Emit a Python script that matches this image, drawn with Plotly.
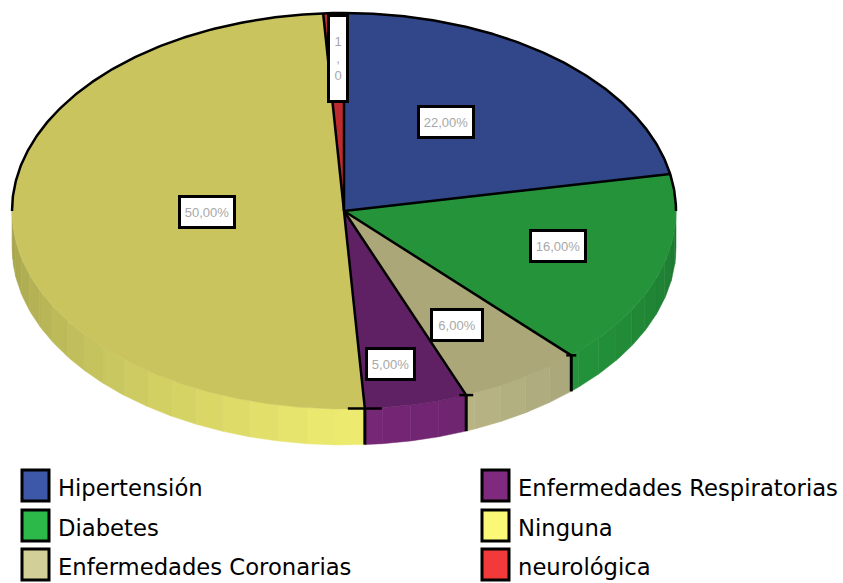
import math
import plotly.graph_objects as go

# ---- data ----
categories = ["Hipertensión", "Diabetes", "Enfermedades Coronarias",
              "Enfermedades Respiratorias", "Ninguna", "neurológica"]
values = [22, 16, 6, 5, 50, 1]
value_labels = ["22,00%", "16,00%", "6,00%", "5,00%", "50,00%", "1<br>,<br>0"]
legend_colors = ["#3D58A8", "#2DB84A", "#D3CF99", "#7F2A7F", "#FBF877", "#F33A3A"]
face_colors = ["#31478A", "#249339", "#ABA778", "#5F2163", "#C9C45E", "#BE2B2F"]

# ---- layout constants (pixels) ----
W, H = 843, 583
CX, CY, RX, RY, DEPTH = 344, 211, 332, 198, 36
LABEL_POS = [(446, 122), (558, 246), (457, 325), (390.5, 364), (207, 212), (338, 58)]
LABEL_SIZE = [(52, 28), (52, 28), (48, 28), (45, 28), (52, 28), (16, 83)]
LEGEND_SWATCH = [(22, 470), (22, 510), (22, 549), (482, 470), (482, 510), (482, 549)]
SWATCH_W, SWATCH_H = 27, 31
TICK_HALF = {2: 5, 3: 7, 4: 17}   # short marks at the front rim, by boundary index


def pt(deg, dy=0):
    t = math.radians(deg)
    return CX + RX * math.sin(t), CY - RY * math.cos(t) + dy


def shade(hex_color, f):
    r, g, b = (int(hex_color[i:i + 2], 16) for i in (1, 3, 5))
    return "rgb(%d,%d,%d)" % (r * f, g * f, b * f)


def arc(a0, a1, step=1.0, dy=0):
    n = max(2, int(abs(a1 - a0) / step) + 1)
    return [pt(a0 + (a1 - a0) * i / (n - 1), dy) for i in range(n)]


def line(points, width=2.5):
    fig.add_trace(go.Scatter(x=[p[0] for p in points], y=[p[1] for p in points],
                             mode="lines", line=dict(color="black", width=width),
                             hoverinfo="skip", showlegend=False))


total = sum(values)
bounds = [0]
for v in values:
    bounds.append(bounds[-1] + v / total * 360)

fig = go.Figure()

# side wall strips (front half only), stepped shading as in the original
STRIP = 5.0
for i in range(len(values)):
    a0, a1 = max(bounds[i], 90), min(bounds[i + 1], 270)
    if a1 <= a0:
        continue
    a = a0
    while a < a1 - 1e-6:
        b = min(a + STRIP, a1)
        top = arc(a, b, 1.0)
        bot = arc(b, a, 1.0, DEPTH)
        poly = top + bot + [top[0]]
        mid = (a + b) / 2
        f = 0.95 - abs(mid - 180) / 90 * 0.30
        c = shade(legend_colors[i], f)
        fig.add_trace(go.Scatter(x=[p[0] for p in poly], y=[p[1] for p in poly],
                                 mode="lines", fill="toself", fillcolor=c,
                                 line=dict(color=c, width=0.5),
                                 hoverinfo="skip", showlegend=False))
        a = b

# top faces (fill only)
for i in range(len(values)):
    poly = [(CX, CY)] + arc(bounds[i], bounds[i + 1], 0.5) + [(CX, CY)]
    fig.add_trace(go.Scatter(x=[p[0] for p in poly], y=[p[1] for p in poly],
                             mode="lines", fill="toself", fillcolor=face_colors[i],
                             line=dict(color=face_colors[i], width=0.5),
                             name=categories[i], showlegend=False))

# black outline: radial edges and back half of the rim
for i in range(len(values)):
    line([(CX, CY), pt(bounds[i])])
line(arc(270, 360, 0.5))
line(arc(0, 90, 0.5))

# vertical edges and short rim marks at slice boundaries on the front wall
for i in range(len(values)):
    a = bounds[i]
    if 90 < a < 270:
        x0, y0 = pt(a)
        line([(x0, y0), pt(a, DEPTH)], 3)
        h = TICK_HALF.get(i)
        if h:
            line([(x0 - h, y0), (x0 + h, y0)], 2.5)

shapes = []
annotations = []
for i, cat in enumerate(categories):
    x, y = LEGEND_SWATCH[i]
    shapes.append(dict(type="rect", xref="x", yref="y", x0=x, x1=x + SWATCH_W,
                       y0=y, y1=y + SWATCH_H, fillcolor=legend_colors[i],
                       line=dict(color="black", width=3)))
    annotations.append(dict(x=x + 34, y=y + SWATCH_H / 2 + 2, xref="x", yref="y",
                            text=cat, showarrow=False, xanchor="left", yanchor="middle",
                            font=dict(family="DejaVu Sans", size=22.7, color="black")))
    lx, ly = LABEL_POS[i]
    lw, lh = LABEL_SIZE[i]
    annotations.append(dict(x=lx, y=ly, xref="x", yref="y", text=value_labels[i],
                            showarrow=False, width=lw, height=lh, align="center",
                            valign="middle", bgcolor="white", bordercolor="black",
                            borderwidth=3, borderpad=0,
                            font=dict(family="Liberation Sans", size=13, color="#A8A8A8")))

fig.update_layout(
    width=W, height=H, margin=dict(l=0, r=0, t=0, b=0),
    paper_bgcolor="white", plot_bgcolor="white", showlegend=False,
    xaxis=dict(range=[0, W], visible=False, fixedrange=True),
    yaxis=dict(range=[H, 0], visible=False, fixedrange=True),
    shapes=shapes, annotations=annotations,
)
fig.write_html("out.html", config=dict(displayModeBar=False),
               post_script="document.body.style.margin='0';document.body.style.overflow='hidden';")
